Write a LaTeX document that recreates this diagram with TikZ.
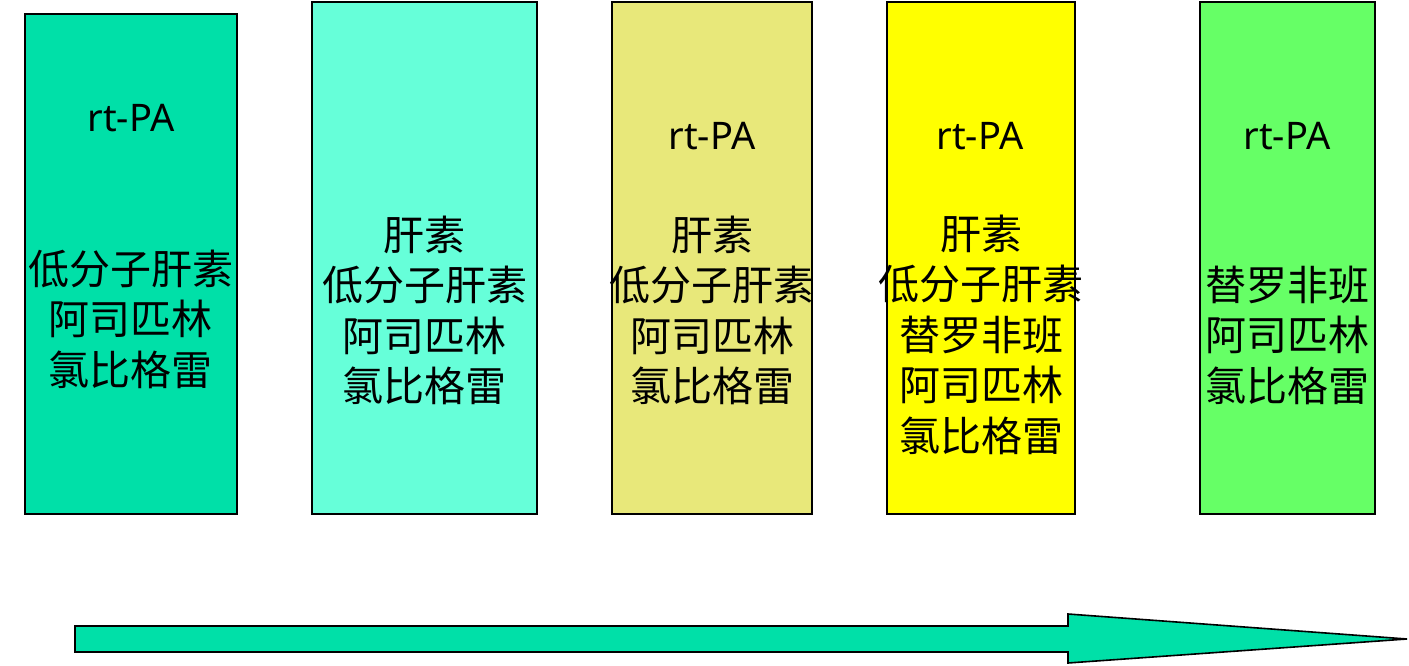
\documentclass[tikz,border=0pt]{standalone}
\usepackage{fontspec}
\newfontfamily\cjk{Noto Sans CJK SC}
\newfontfamily\latinf{Noto Sans}
\definecolor{cone}{RGB}{0,224,168}
\definecolor{ctwo}{RGB}{102,255,217}
\definecolor{cthree}{RGB}{232,232,122}
\definecolor{cfour}{RGB}{255,255,0}
\definecolor{cfive}{RGB}{102,255,102}
\begin{document}
\begin{tikzpicture}[x=1pt,y=-1pt,
  box/.style={draw=black, line width=1.6pt, anchor=north west, inner sep=0pt, outer sep=0pt},
  cjktext/.style={font=\cjk\fontsize{41}{50.5}\selectfont, align=center, inner sep=0pt},
  rttext/.style={font=\latinf\fontsize{38}{40}\selectfont, inner sep=0pt}]
\useasboundingbox (0,0) rectangle (1409,666);
% boxes
\node[box, fill=cone,  minimum width=212pt, minimum height=500pt] (b1) at (25,14) {};
\node[box, fill=ctwo,  minimum width=225pt, minimum height=512pt] (b2) at (312,2) {};
\node[box, fill=cthree,minimum width=200pt, minimum height=512pt] (b3) at (612,2) {};
\node[box, fill=cfour, minimum width=188pt, minimum height=512pt] (b4) at (887,2) {};
\node[box, fill=cfive, minimum width=175pt, minimum height=512pt] (b5) at (1200,2) {};
% rt-PA labels
\node[rttext] (r1) at (131,118.5) {rt-PA};
\node[rttext] (r3) at (712,136) {rt-PA};
\node[rttext] (r4) at (980,136) {rt-PA};
\node[rttext] (r5) at (1287,136) {rt-PA};
% drug lists
\node[cjktext] (t1) at (131,319) {低分子肝素\\阿司匹林\\氯比格雷};
\node[cjktext] (t2) at (424.5,310.5) {肝素\\低分子肝素\\阿司匹林\\氯比格雷};
\node[cjktext] (t3) at (712,310.5) {肝素\\低分子肝素\\阿司匹林\\氯比格雷};
\node[cjktext] (t4) at (981,334.5) {肝素\\低分子肝素\\替罗非班\\阿司匹林\\氯比格雷};
\node[cjktext] (t5) at (1287.5,335) {替罗非班\\阿司匹林\\氯比格雷};
% block arrow
\draw[line width=1.6pt, fill=cone, line join=miter]
  (75,626) -- (1068,626) -- (1068,614) -- (1407,639) -- (1068,663) -- (1068,652) -- (75,652) -- cycle;
\end{tikzpicture}
\end{document}
